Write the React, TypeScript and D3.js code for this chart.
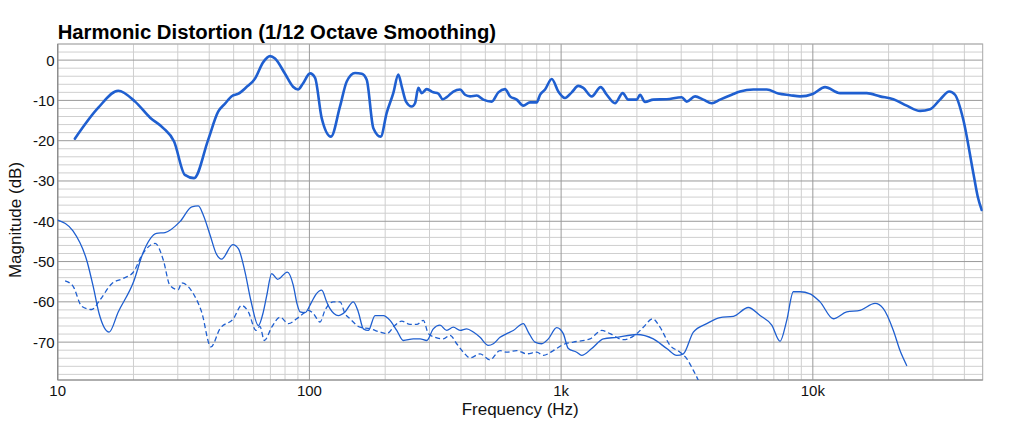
import React from "react";
import * as d3 from "d3";

const W = 1024;
const H = 429;
const M = { left: 57.7, right: 982.7, top: 44, bottom: 380 };

const titleText = "Harmonic Distortion (1/12 Octave Smoothing)";
const xTitle = "Frequency (Hz)";
const yTitle = "Magnitude (dB)";
const xDomain: [number, number] = [10, 47300];
const yDomain: [number, number] = [-79.4, 4];
const xTickValues = [10, 100, 1000, 10000];
const xTickLabels = ["10", "100", "1k", "10k"];
const yTickValues = [0, -10, -20, -30, -40, -50, -60, -70];

// Fundamental (thick)
const fundamental: [number, number][] = [
  [11.7, -19.5], [14.5, -11.8], [17.4, -7.6], [20.3, -10.3], [23.3, -14.3], [26.2, -16.8],
  [29.0, -20.2], [32.0, -28.5], [34.8, -29.3], [39.6, -19.8], [43.4, -12.8], [46.2, -10.8],
  [49.3, -8.9], [52.0, -8.4], [56.0, -6.8], [60.8, -4.6], [65.4, -0.6], [69.8, 1.0],
  [73.0, 0.4], [80.0, -3.4], [86.1, -6.6], [90.1, -7.3], [94.3, -5.8], [100.6, -3.3],
  [105.3, -4.4], [111.9, -14.4], [121.8, -19.0], [132.3, -11.5], [140.7, -5.3], [151.8, -3.2],
  [161.4, -3.4], [168.9, -4.9], [179.5, -16.9], [192.0, -19.0], [202.8, -13.1], [215.4, -8.2],
  [225.5, -3.6], [232.6, -6.5], [242.0, -10.3], [254.9, -11.5], [262.8, -10.7], [270.9, -6.9],
  [279.4, -8.2], [292.5, -7.2], [310.6, -8.0], [325.2, -8.3], [338.6, -9.7], [351.2, -9.2],
  [373.1, -7.8], [396.7, -7.3], [415.3, -8.6], [434.7, -9.0], [462.1, -8.8], [490.8, -9.8],
  [530.1, -10.3], [563.1, -8.0], [598.6, -7.2], [626.6, -9.0], [666.2, -9.8], [707.6, -11.3],
  [752.2, -10.5], [799.8, -10.5], [824.5, -8.6], [863.4, -7.3], [917.9, -4.7], [974.7, -7.8],
  [1036, -9.4], [1102, -8.0], [1170, -6.4], [1225, -6.9], [1323, -9.0], [1436, -6.7],
  [1518, -8.6], [1637, -10.7], [1757, -8.2], [1849, -9.8], [1997, -9.8], [2058, -8.6],
  [2154, -10.4], [2324, -9.8], [2628, -9.7], [3014, -9.2], [3155, -10.3], [3404, -9.0],
  [3673, -9.8], [3966, -10.7], [4280, -9.8], [4762, -8.6], [5138, -7.8], [5801, -7.3],
  [6561, -7.3], [7292, -8.3], [8121, -8.7], [8897, -9.0], [9991, -8.4], [11180, -6.7],
  [12830, -8.2], [16370, -8.2], [18490, -9.0], [20890, -9.7], [23600, -11.3], [26670, -12.6],
  [29220, -12.2], [32020, -9.8], [34860, -7.8], [36720, -8.6], [39610, -14.8], [43420, -28.1],
  [45210, -33.9], [46880, -37.2],
];

// 2nd harmonic (thin solid)
const secondHarmonic: [number, number][] = [
  [10.0, -39.7], [11.5, -42.4], [13.1, -50.1], [13.85, -56.3], [14.6, -62.9], [16.0, -67.5],
  [17.4, -62.5], [20.0, -55.1], [21.9, -47.6], [24.7, -43.0], [26.7, -42.8], [30.6, -40.1],
  [34.1, -36.4], [36.2, -36.2], [37.9, -38.5], [40.3, -43.4], [42.6, -48.0], [44.8, -49.4],
  [49.6, -45.8], [52.2, -46.8], [55.5, -52.6], [58.5, -59.6], [62.7, -65.9], [65.6, -62.5],
  [67.7, -58.4], [70.8, -53.0], [74.8, -54.4], [81.7, -52.6], [86.3, -55.9], [89.3, -60.5],
  [91.8, -62.5], [96.0, -62.7], [102.1, -60.0], [106, -58.2], [111.9, -57.1], [117.1, -60.0],
  [120.7, -61.7], [130.3, -63.4], [138.5, -62.5], [149.4, -60.0], [156.4, -62.5], [163.8, -66.7],
  [171.4, -67.1], [182.3, -63.4], [196.7, -63.4], [209.0, -64.6], [222.3, -67.1], [236.1, -69.6],
  [258.7, -69.2], [275.1, -69.2], [292.4, -69.6], [310.6, -66.7], [330.2, -65.8], [351.2, -67.1],
  [373.1, -66.3], [396.7, -67.1], [421.7, -66.7], [448.0, -67.5], [476.2, -68.8], [513.7, -70.8],
  [537.9, -70.4], [571.9, -68.8], [607.9, -67.9], [645.7, -67.1], [707.6, -65.4], [740.7, -67.5],
  [787.4, -70.0], [837.1, -70.4], [889.3, -69.2], [960.5, -66.4], [1020, -67.9], [1068, -71.6],
  [1153, -72.5], [1207, -73.3], [1323, -71.6], [1472, -69.2], [1663, -68.8], [1997, -68.1],
  [2324, -69.2], [2628, -71.6], [2880, -73.3], [3059, -72.9], [3352, -67.5], [3789, -65.4],
  [4280, -63.9], [4833, -63.6], [5543, -61.4], [6169, -63.4], [6867, -65.8], [7408, -69.8],
  [7877, -64.6], [8366, -57.5], [8897, -57.5], [9747, -58.0], [10680, -60.0], [12060, -64.2],
  [13640, -62.5], [15400, -62.1], [17670, -60.4], [19060, -61.7], [20890, -67.1], [22200, -72.1],
  [23600, -75.8],
];

// 3rd harmonic (dashed)
const thirdHarmonic: [number, number][] = [
  [10.7, -54.8], [11.5, -56.1], [12.46, -61.1], [13.65, -61.9], [14.7, -59.6], [16.4, -55.5],
  [18.2, -54.2], [20.0, -52.6], [21.6, -48.4], [24.4, -45.5], [26.3, -49.7], [27.9, -55.9],
  [30.1, -57.0], [31.1, -55.3], [34.6, -58.0], [37.3, -62.5], [40.6, -71.2], [44.1, -66.7],
  [49.9, -64.2], [53.8, -60.9], [57.2, -62.5], [61.4, -67.1], [63.6, -66.1], [66.2, -69.6],
  [70.8, -66.3], [76.4, -63.8], [82.5, -65.4], [89.0, -64.2], [94.6, -62.9], [99.0, -62.1],
  [103.6, -62.9], [110.2, -65.0], [115.3, -62.1], [124.5, -60.0], [132.3, -60.0], [138.5, -62.9],
  [145.0, -64.2], [158.9, -66.3], [174.1, -66.7], [190.8, -67.5], [202.8, -67.9], [218.9, -65.8],
  [232.6, -64.8], [251.0, -65.6], [266.9, -65.6], [283.5, -64.6], [296.9, -67.9], [315.5, -68.8],
  [340.4, -69.2], [362.0, -68.3], [384.7, -70.4], [408.7, -72.5], [434.7, -73.9], [476.2, -72.9],
  [521.9, -74.4], [571.9, -72.1], [607.9, -72.5], [666.2, -72.1], [730.0, -72.9], [799.8, -72.5],
  [849.6, -73.3], [931.1, -72.1], [1020, -70.6], [1118, -70.0], [1302, -69.2], [1450, -67.1],
  [1564, -67.9], [1767, -69.4], [1997, -67.9], [2121, -66.3], [2312, -64.2], [2471, -66.3],
  [2708, -70.8], [2968, -72.5], [3155, -74.1], [3352, -77.0], [3509, -79.5], [3564, -80.5],
];

const LINE = "#1f5fd0";
const FONT = "'Liberation Sans', Arial, Helvetica, sans-serif";

export default function App() {
  const x = d3.scaleLog().domain(xDomain).range([M.left, M.right]);
  const y = d3.scaleLinear().domain(yDomain).range([M.bottom, M.top]);

  const smooth = d3
    .line<[number, number]>()
    .x((d) => x(d[0]))
    .y((d) => y(d[1]))
    .curve(d3.curveMonotoneX);

  const vMinor: number[] = [];
  const vMajor: number[] = [];
  for (let dec = 10; dec <= 10000; dec *= 10) {
    for (let k = 1; k <= 9; k++) {
      const f = dec * k;
      if (f > xDomain[1]) continue;
      if (k === 1) vMajor.push(f);
      else vMinor.push(f);
    }
  }
  const hMinor: number[] = [];
  const hMajor: number[] = [];
  for (let v = 4; v >= -78; v -= 2) {
    if (v % 10 === 0) hMajor.push(v);
    else hMinor.push(v);
  }

  return (
    <svg
      width={W}
      height={H}
      style={{ position: "absolute", left: 0, top: 0, background: "#fff" }}
      fontFamily={FONT}
    >
      <defs>
        <clipPath id="plotclip">
          <rect x={M.left} y={M.top} width={M.right - M.left} height={M.bottom - M.top} />
        </clipPath>
      </defs>
      <rect x={0} y={0} width={W} height={H} fill="#fff" />
      <text x={M.left} y={39} fontSize={20.3} fontWeight="bold" fill="#000">
        {titleText}
      </text>

      <g>
        {hMinor.map((v) => (
          <line key={"hm" + v} x1={M.left} x2={M.right} y1={y(v)} y2={y(v)} stroke="#cfcfcf" strokeWidth={1} />
        ))}
        {vMinor.map((f) => (
          <line key={"vm" + f} x1={x(f)} x2={x(f)} y1={M.top} y2={M.bottom} stroke="#cfcfcf" strokeWidth={1} />
        ))}
        {hMajor.map((v) => (
          <line key={"hM" + v} x1={M.left} x2={M.right} y1={y(v)} y2={y(v)} stroke="#9a9a9a" strokeWidth={1} />
        ))}
        {vMajor.map((f) => (
          <line key={"vM" + f} x1={x(f)} x2={x(f)} y1={M.top} y2={M.bottom} stroke="#9a9a9a" strokeWidth={1} />
        ))}
        <rect
          x={M.left}
          y={M.top}
          width={M.right - M.left}
          height={M.bottom - M.top}
          fill="none"
          stroke="#a8a8a8"
          strokeWidth={1}
        />
        <line x1={M.left} x2={M.left} y1={M.top} y2={M.bottom} stroke="#8a8a8a" strokeWidth={1.2} />
        <line x1={M.left} x2={M.right} y1={M.bottom} y2={M.bottom} stroke="#8a8a8a" strokeWidth={1.2} />
      </g>

      <g clipPath="url(#plotclip)" fill="none" stroke={LINE} strokeLinejoin="round" strokeLinecap="round">
        <path d={smooth(thirdHarmonic) || ""} strokeWidth={1.3} strokeDasharray="5,3" strokeLinecap="butt" />
        <path d={smooth(secondHarmonic) || ""} strokeWidth={1.3} />
        <path d={smooth(fundamental) || ""} strokeWidth={2.6} />
      </g>

      <g fontSize={15} fill="#111">
        {yTickValues.map((v) => (
          <text key={"yt" + v} x={M.left - 3} y={y(v)} textAnchor="end" dominantBaseline="central">
            {v === 0 ? "0" : String(v)}
          </text>
        ))}
        {xTickValues.map((f, i) => (
          <text key={"xt" + f} x={x(f)} y={396} textAnchor="middle">
            {xTickLabels[i]}
          </text>
        ))}
      </g>
      <text x={(M.left + M.right) / 2} y={415} textAnchor="middle" fontSize={17} fill="#111">
        {xTitle}
      </text>
      <text
        transform={`translate(21, ${220}) rotate(-90)`}
        textAnchor="middle"
        fontSize={17}
        fill="#111"
      >
        {yTitle}
      </text>
    </svg>
  );
}
